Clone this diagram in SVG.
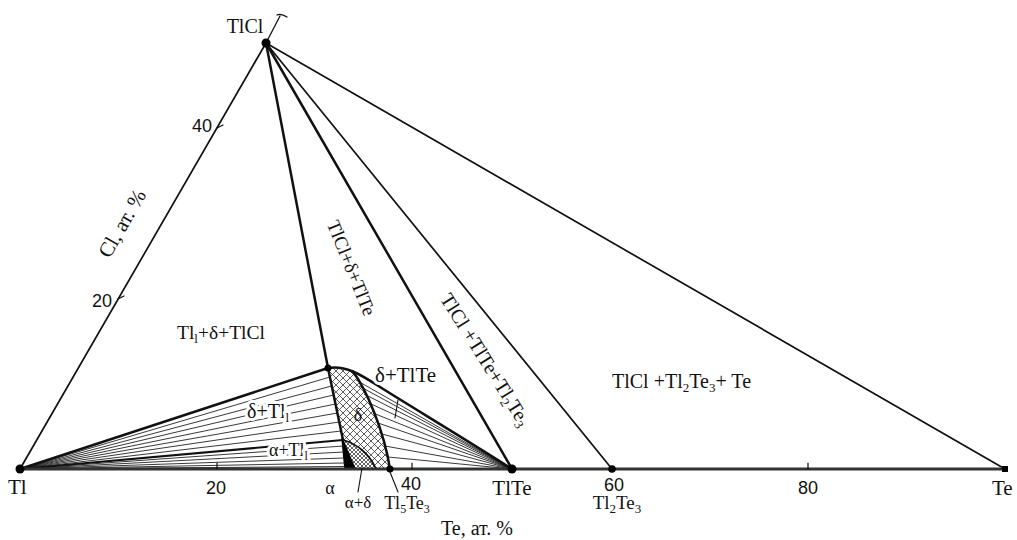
<svg xmlns="http://www.w3.org/2000/svg" width="1017" height="540" viewBox="0 0 1017 540">
<style>
.t{font-family:"Liberation Serif","Times New Roman",serif;fill:#111}
.n{font-family:"Liberation Sans",Arial,sans-serif;fill:#111}
.ln{stroke:#111;fill:none;stroke-linecap:round;stroke-linejoin:round}
.w1{stroke-width:1.7}
.w2{stroke-width:2.5}
.tie{stroke:#222;stroke-width:0.9;fill:none}
.halo{stroke:#fff;stroke-width:6;paint-order:stroke;stroke-linejoin:round}
.dot{fill:#000}
</style>
<defs>
<pattern id="xh" width="7" height="7" patternUnits="userSpaceOnUse">
<rect width="7" height="7" fill="#fff"/>
<path d="M0,0 L7,7 M7,0 L0,7" stroke="#333" stroke-width="0.8"/>
</pattern>
<pattern id="xf" width="4" height="4" patternUnits="userSpaceOnUse">
<rect width="4" height="4" fill="#fff"/>
<path d="M0,0 L4,4 M4,0 L0,4" stroke="#222" stroke-width="0.7"/>
</pattern>
</defs>
<rect width="1017" height="540" fill="#fff"/>

<g id="regions">
<path id="delta-region" d="M328,368 C336.5,366.5 344.5,368 352.9,371.5 C366,389 384,430 390,469 L376,469 C370,455 358,444 343,440 Z" fill="url(#xh)"/>
<path id="alpha-delta-region" d="M343,440 C358,444 370,455 376,469 L354,469 Z" fill="url(#xf)"/>
<path id="alpha-region" d="M342,438 L355,469 L345,469 Z" fill="#000" stroke="#000" stroke-width="1.5"/>
</g>

<g id="connectors">
<path class="tie" d="M20,469 L329.9,377 M20,469 L331.7,386 M20,469 L333.6,395 M20,469 L335.5,404 M20,469 L337.4,413 M20,469 L339.2,422 M20,469 L341.1,431"/>
<path class="tie" d="M20,469 L343.5,446 M20,469 L343.9,452 M20,469 L344.3,458 M20,469 L344.7,463 M20,469 L345,466.5"/>
<path class="tie" d="M512,469 L356,380 M512,469 L359,386 M512,469 L364,394 M512,469 L369,403 M512,469 L373,413 M512,469 L378,423 M512,469 L382,434 M512,469 L385,446 M512,469 L388,457"/>
<path class="ln w2" d="M20,469 L328,368"/>
<path class="ln" stroke-width="2.2" d="M20,469 L343,440"/>
<path class="ln w2" d="M328,368 C345,365 360,374 380,387 C410,406 470,442 512,469"/>
<path class="ln w2" d="M328,368 L343,440"/>
<path class="ln w2" d="M352.9,371.5 C366,389 384,430 390,469"/>
<path class="ln w1" d="M343,440 C358,444 370,455 376,469"/>
<path class="ln w1" d="M20,469 L266,43"/>
<path class="ln w2" d="M266,43 L328,368"/>
<path class="ln w2" d="M266,43 L512,469"/>
<path class="ln w1" d="M266,43 L612,469"/>
<path class="ln w1" d="M266,43 L1005,469"/>
<path d="M20,469 L1005,469" stroke="#333" stroke-width="3" fill="none"/>
<path class="ln" stroke-width="1.3" d="M266,43 L280,16 M277,15 Q281,13 287,17"/>
<path class="ln" stroke-width="1.2" d="M217,128 L223,125 M118,299 L124,296 M217,463 L217,469 M412,463 L412,469 M808,463 L808,469"/>
<path class="ln" stroke-width="1.1" d="M398,400 L395,418 M362,468 L358,492 M390,472 L398,492"/>
</g>

<g id="node-TlCl"><circle class="dot" cx="266" cy="43" r="4.5"/><text class="t" x="245" y="33" font-size="20" text-anchor="middle">TlCl</text></g>
<g id="node-Tl"><circle class="dot" cx="20" cy="469" r="4.5"/><text class="t" x="8" y="494" font-size="21">Tl</text></g>
<g id="node-TlTe"><circle class="dot" cx="512" cy="469" r="4.5"/><text class="t" x="512" y="495" font-size="21" text-anchor="middle">TlTe</text></g>
<g id="node-Tl2Te3"><circle class="dot" cx="612" cy="469" r="3.8"/><text class="n" x="614" y="491" font-size="18" text-anchor="middle">60</text><text class="t" x="617" y="509" font-size="19" text-anchor="middle">Tl<tspan dy="4" font-size="13">2</tspan><tspan dy="-4">Te</tspan><tspan dy="4" font-size="13">3</tspan></text></g>
<g id="node-Te"><rect x="1002" y="466" width="6" height="6" fill="#000"/><text class="t" x="992" y="495" font-size="21">Te</text></g>
<g id="node-Tl5Te3"><circle class="dot" cx="390" cy="469" r="3.5"/><text class="n" x="411" y="490" font-size="18" text-anchor="middle">40</text><text class="t" x="407" y="509" font-size="18" text-anchor="middle">Tl<tspan dy="4" font-size="12">5</tspan><tspan dy="-4">Te</tspan><tspan dy="4" font-size="12">3</tspan></text></g>
<g id="node-peak"><circle class="dot" cx="328" cy="368" r="3.5"/></g>

<g id="axis-labels">
<text class="n" x="202" y="132" font-size="18" text-anchor="middle">40</text>
<text class="n" x="102" y="307" font-size="18" text-anchor="middle">20</text>
<text class="n" x="216" y="494" font-size="18" text-anchor="middle">20</text>
<text class="n" x="808" y="494" font-size="18" text-anchor="middle">80</text>
<text class="t" font-size="21" text-anchor="middle" transform="translate(123,224) rotate(-60)" y="6">Cl, ат. %</text>
<text class="t" x="477" y="535" font-size="20" text-anchor="middle">Te, ат. %</text>
<text class="t" x="330" y="494" font-size="18" text-anchor="middle">α</text>
<text class="t" x="358" y="508" font-size="17" text-anchor="middle">α+δ</text>
</g>

<g id="phase-labels">
<text class="t" x="177" y="339" font-size="19.5">Tl<tspan dy="4" font-size="13">l</tspan><tspan dy="-4">+δ+TlCl</tspan></text>
<text class="t" font-size="19" text-anchor="middle" transform="translate(351,268) rotate(68)" y="6">TlCl+δ+TlTe</text>
<text class="t" font-size="20" text-anchor="middle" transform="translate(485,360) rotate(58)" y="6">TlCl +TlTe+Tl<tspan dy="4" font-size="13">2</tspan><tspan dy="-4">Te</tspan><tspan dy="4" font-size="13">3</tspan></text>
<text class="t" x="612" y="388" font-size="20">TlCl +Tl<tspan dy="4" font-size="13">2</tspan><tspan dy="-4">Te</tspan><tspan dy="4" font-size="13">3</tspan><tspan dy="-4">+ Te</tspan></text>
<text class="t halo" x="375" y="382" font-size="21">δ+TlTe</text>
<text class="t halo" x="247" y="418" font-size="20">δ+Tl<tspan dy="4" font-size="13">l</tspan></text>
<text class="t halo" x="269" y="456" font-size="18">α+Tl<tspan dy="4" font-size="12">l</tspan></text>
<text class="t" x="358" y="421" font-size="18" text-anchor="middle">δ</text>
</g>
</svg>
